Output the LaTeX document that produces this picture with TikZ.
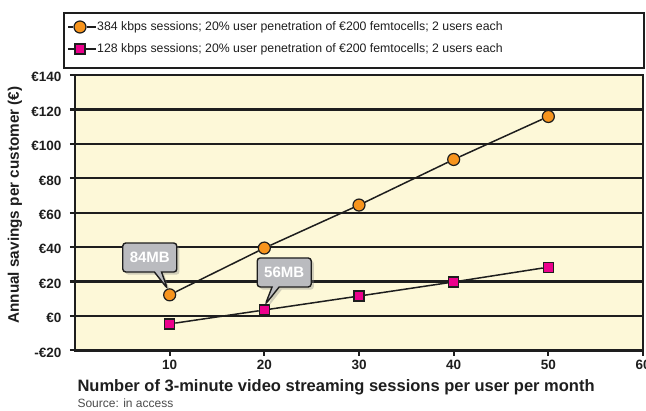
\documentclass[tikz,border=0pt]{standalone}
\usepackage{fontspec}
\setmainfont{Liberation Sans}
\usepackage{tikz}
\usetikzlibrary{positioning, shapes.callouts, shadows}
\definecolor{plotbg}{RGB}{253, 248, 216}
\definecolor{dotorange}{RGB}{247, 148, 29}
\definecolor{dotpink}{RGB}{236, 0, 140}
\definecolor{calloutgray}{RGB}{186, 187, 191}
\definecolor{inkdark}{RGB}{30, 30, 30}
\tikzset{
    gridline/.style={inkdark, line width=2.2pt},
    dataline/.style={inkdark, line width=1.5pt},
    orangedot/.style={circle, draw=inkdark, line width=1.2pt, fill=dotorange, minimum size=12pt, inner sep=0pt},
    pinkdot/.style={rectangle, draw=inkdark, line width=1.2pt, fill=dotpink, minimum size=10pt, inner sep=0pt},
    ticklabel/.style={font=\fontsize{13.5}{15}\selectfont\bfseries, text=inkdark, inner sep=1pt},
    axistitle/.style={font=\fontsize{16.5}{18}\selectfont\bfseries, text=inkdark},
    legendtext/.style={font=\fontsize{12.3}{14}\selectfont, text=inkdark, inner sep=1pt},
    callbox/.style={rectangle callout, rounded corners=3pt, draw=inkdark, line width=1.4pt,
        fill=calloutgray, text=white, font=\fontsize{15}{17}\selectfont\bfseries,
        minimum width=54pt, minimum height=29pt, inner sep=2pt, drop shadow={opacity=0.35}}
}

\begin{document}
\begin{tikzpicture}[x=1pt, y=-1pt]
    \useasboundingbox (0,0) rectangle (646,411);
    % legend
    \node[draw=inkdark, line width=1.6pt, minimum width=580pt, minimum height=55pt, anchor=north west] (legend) at (63,12) {};
    \node[orangedot] (lgo) at (80,27) {};
    \node[pinkdot] (lgp) at (80,49) {};
    \draw[dataline, line width=2pt] (68,27) -- (lgo) -- (96,27);
    \draw[dataline, line width=2pt] (68,49) -- (lgp) -- (96,49);
    \node[legendtext, anchor=west] (lgtexto) at (96,27) {384 kbps sessions; 20\% user penetration of €200 femtocells; 2 users each};
    \node[legendtext, anchor=west] (lgtextp) at (96,49) {128 kbps sessions; 20\% user penetration of €200 femtocells; 2 users each};

    % plot area: 0 sessions at x=75, 0 euro at y=316
    \begin{scope}[shift={(75,316)}, x=9.467pt, y=1.72pt]
        \fill[plotbg] (0,-20) rectangle (60,140);
        \foreach \v in {-20,0,...,140} {
            \draw[gridline] (-0.55,\v) -- (60,\v);
            \node[ticklabel, anchor=east, yshift=-2pt] (ylab\v) at (-1.3,\v) {\ifnum\v<0 -€\number-\v\else €\v\fi};
        }
        \foreach \s in {10,20,...,60} {
            \draw[gridline] (\s,-20) -- (\s,-23.5);
            \node[ticklabel, anchor=base] (xlab\s) at (\s,-31) {\s};
        }
        \draw[inkdark, line width=2.4pt] (0,-20) rectangle (60,140);

        % 384 kbps
        \node[orangedot] (o10) at (10,12.3) {};
        \node[orangedot] (o20) at (20,39.5) {};
        \node[orangedot] (o30) at (30,64.5) {};
        \node[orangedot] (o40) at (40,91) {};
        \node[orangedot] (o50) at (50,116) {};
        % 128 kbps
        \node[pinkdot] (p10) at (10,-4.6) {};
        \node[pinkdot] (p20) at (20,3.5) {};
        \node[pinkdot] (p30) at (30,11.6) {};
        \node[pinkdot] (p40) at (40,19.8) {};
        \node[pinkdot] (p50) at (50,28.4) {};
        \draw[dataline] (o10) -- (o20) -- (o30) -- (o40) -- (o50);
        \draw[dataline] (p10) -- (p20) -- (p30) -- (p40) -- (p50);

        % callouts
        \node[callbox, callout absolute pointer={(o10.110)}] (cb84) at (7.9,34) {84MB};
        \node[callbox, callout absolute pointer={(p20.80)}] (cb56) at (22.1,25.3) {56MB};
    \end{scope}

    % axis titles
    \node[axistitle, rotate=90, font=\fontsize{15.3}{17}\selectfont\bfseries] (ytitle) at (15,205) {Annual savings per customer (€)};
    \node[axistitle, anchor=west] (xtitle) at (74,387) {Number of 3-minute video streaming sessions per user per month};
    \node[font=\fontsize{12}{14}\selectfont, text=inkdark!80, anchor=west] (source) at (74,403) {Source: in access};
\end{tikzpicture}
\end{document}
